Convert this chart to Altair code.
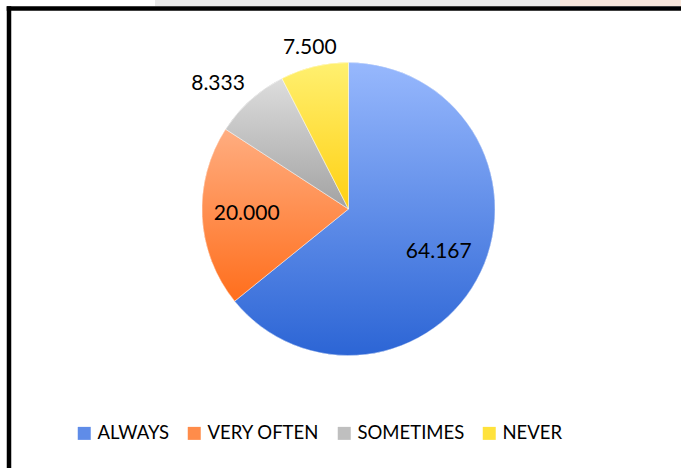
import altair as alt
import pandas as pd

cats = ["ALWAYS", "VERY OFTEN", "SOMETIMES", "NEVER"]
vals = [64.167, 20.000, 8.333, 7.500]
labels = ["64.167", "20.000", "8.333", "7.500"]
order = [0, 1, 2, 3]

mid_colors = ["#5F8CE8", "#FF8C4A", "#BFBFBF", "#FFE23C"]
grad_stops = [
    ("#97B8FD", "#2C65D5"),
    ("#FFAD80", "#FF6E1C"),
    ("#DDDDDD", "#A2A2A2"),
    ("#FFF070", "#FFD012"),
]

df = pd.DataFrame({"cat": cats, "value": vals, "label": labels, "ord": order})

CX, CY, R = 348.5, 209, 146.5
FONT = "Lato"


def grad(top, bottom):
    return {
        "gradient": "linear",
        "x1": 0, "y1": 0, "x2": 0, "y2": 1,
        "stops": [{"offset": 0, "color": top}, {"offset": 1, "color": bottom}],
    }


base = (
    alt.Chart(df)
    .transform_window(cum="sum(value)", sort=[{"field": "ord"}], frame=[None, 0])
    .transform_joinaggregate(total="sum(value)")
    .transform_calculate(
        start="(datum.cum - datum.value) / datum.total * 2 * PI",
        end="datum.cum / datum.total * 2 * PI",
        mid="(datum.cum - datum.value / 2) / datum.total * 2 * PI",
    )
)

legend_layer = base.mark_arc(outerRadius=R).encode(
    theta=alt.Theta("start:Q", scale=None),
    theta2="end:Q",
    x=alt.value(CX),
    y=alt.value(CY),
    color=alt.Color(
        "cat:N",
        scale=alt.Scale(domain=cats, range=mid_colors),
        sort=cats,
        legend=alt.Legend(
            title=None,
            orient="none",
            direction="horizontal",
            legendX=75,
            legendY=424,
            symbolType="square",
            symbolSize=169,
            symbolStrokeWidth=0,
            labelFont=FONT,
            labelFontSize=18.5,
            labelColor="#000000",
            labelOffset=4,
            columnPadding=15,
            labelLimit=300,
        ),
    ),
)

fill_rule = alt.when(alt.datum.cat == cats[0]).then(alt.value(grad(*grad_stops[0])))
for c, g in zip(cats[1:3], grad_stops[1:3]):
    fill_rule = fill_rule.when(alt.datum.cat == c).then(alt.value(grad(*g)))
fill_rule = fill_rule.otherwise(alt.value(grad(*grad_stops[3])))

grad_layer = base.mark_arc(outerRadius=R, stroke="#ffffff", strokeWidth=0.5).encode(
    theta=alt.Theta("start:Q", scale=None),
    theta2="end:Q",
    x=alt.value(CX),
    y=alt.value(CY),
    fill=fill_rule,
)


def label_layer(cat, radius, dx=0, dy=0):
    return (
        base.transform_filter(alt.datum.cat == cat)
        .mark_text(radius=radius, dx=dx, dy=dy, font=FONT, fontSize=21,
                   color="#000000", align="center", baseline="middle")
        .encode(
            theta=alt.Theta("mid:Q", scale=None),
            x=alt.value(CX),
            y=alt.value(CY),
            text="label:N",
        )
    )


texts = [
    label_layer(cats[0], 100),
    label_layer(cats[1], 102),
    label_layer(cats[2], 180, dx=-10, dy=9),
    label_layer(cats[3], 166),
]

one = pd.DataFrame({"a": [0]})
frame_left = alt.Chart(one).mark_rule(color="#000000", strokeWidth=4.5).encode(
    x=alt.value(9), y=alt.value(6.3), y2=alt.value(468)
)
frame_top = alt.Chart(one).mark_rule(color="#000000", strokeWidth=4.5).encode(
    x=alt.value(6.7), x2=alt.value(681), y=alt.value(8.5)
)
wm1 = alt.Chart(one).mark_rect(color="#e4e4e4", opacity=0.8).encode(
    x=alt.value(155), x2=alt.value(560), y=alt.value(0), y2=alt.value(6.3)
)
wm2 = alt.Chart(one).mark_rect(color="#f6e0d2", opacity=0.8).encode(
    x=alt.value(560), x2=alt.value(681), y=alt.value(0), y2=alt.value(6.3)
)

chart = (
    alt.layer(wm1, wm2, legend_layer, grad_layer, *texts, frame_left, frame_top)
    .properties(width=681, height=468, padding=0,
                autosize=alt.AutoSizeParams(type="none"), background="#ffffff")
    .configure_view(stroke=None)
)

chart.save("out.html", embed_options={"renderer": "svg", "actions": False})
